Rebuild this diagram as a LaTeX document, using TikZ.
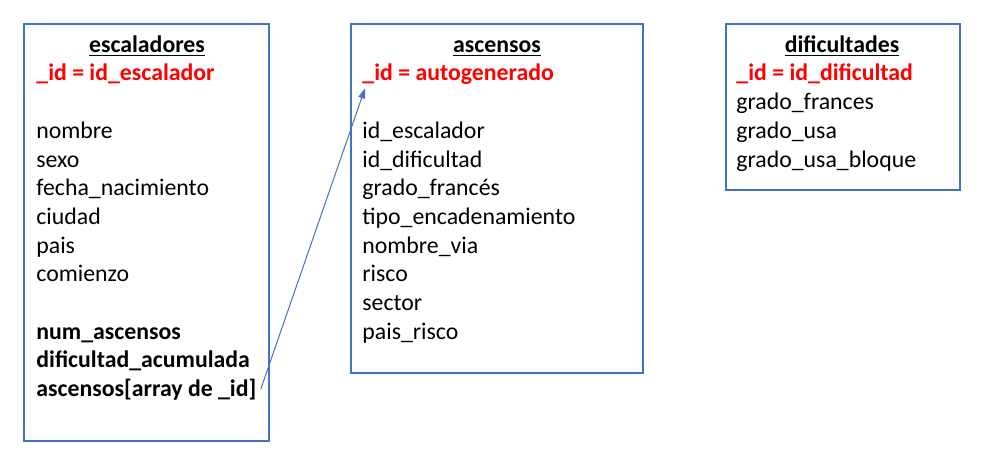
\documentclass[tikz,border=0pt]{standalone}
\usepackage{fontspec}
\setmainfont{Carlito}
\usepackage{xcolor}
\usetikzlibrary{arrows.meta}
\usetikzlibrary{positioning}

\definecolor{boxblue}{HTML}{4472C4}
\definecolor{idred}{HTML}{FF0000}

\tikzset{
    tabla/.style={draw=boxblue, line width=1pt},
    campo/.style={anchor=base west, inner sep=0pt, font=\fontsize{11.9}{14.35}\selectfont},
    negrita/.style={campo, font=\fontsize{11.9}{14.35}\selectfont\bfseries},
    titulo/.style={negrita, anchor=base},
    clave/.style={negrita, text=idred},
    enlace/.style={draw=boxblue, line width=0.5pt, -{Triangle[length=5pt, width=3.5pt]}}
}

\begin{document}
\begin{tikzpicture}[x=0.5pt, y=-0.5pt]
        \useasboundingbox (0, 0) rectangle (988, 472);

        % escaladores
        \draw[tabla] (24, 24) rectangle (269, 441);
        \node [titulo] (escT) at (147, 52) {\underline{escaladores}};
        \node [clave] (escId) at (36, 80) {\_id = id\_escalador};
        \node [campo] (esc1) at (36, 138) {nombre};
        \node [campo] (esc2) at (36, 167) {sexo};
        \node [campo] (esc3) at (36, 195) {fecha\_nacimiento};
        \node [campo] (esc4) at (36, 224) {ciudad};
        \node [campo] (esc5) at (36, 253) {pais};
        \node [campo] (esc6) at (36, 281) {comienzo};
        \node [negrita] (esc7) at (36, 339) {num\_ascensos};
        \node [negrita] (esc8) at (36, 367) {dificultad\_acumulada};
        \node [negrita] (escArr) at (36, 396) {ascensos[array de \_id]};

        % ascensos
        \draw[tabla] (351, 24) rectangle (643, 373);
        \node [titulo] (ascT) at (497, 52) {\underline{ascensos}};
        \node [clave] (ascId) at (362, 80) {\_id = autogenerado};
        \node [campo] (asc1) at (362, 138) {id\_escalador};
        \node [campo] (asc2) at (362, 167) {id\_dificultad};
        \node [campo] (asc3) at (362, 195) {grado\_francés};
        \node [campo] (asc4) at (362, 224) {tipo\_encadenamiento};
        \node [campo] (asc5) at (362, 253) {nombre\_via};
        \node [campo] (asc6) at (362, 281) {risco};
        \node [campo] (asc7) at (362, 310) {sector};
        \node [campo] (asc8) at (362, 339) {pais\_risco};

        % dificultades
        \draw[tabla] (726, 24) rectangle (960, 190);
        \node [titulo] (difT) at (842, 52) {\underline{dificultades}};
        \node [clave] (difId) at (736, 80) {\_id = id\_dificultad};
        \node [campo] (dif1) at (736, 109) {grado\_frances};
        \node [campo] (dif2) at (736, 138) {grado\_usa};
        \node [campo] (dif3) at (736, 167) {grado\_usa\_bloque};

        \draw[enlace] ([xshift=2pt]escArr.east) -- ([xshift=1.5pt, yshift=-2pt]ascId.south west);
    \end{tikzpicture}
\end{document}
